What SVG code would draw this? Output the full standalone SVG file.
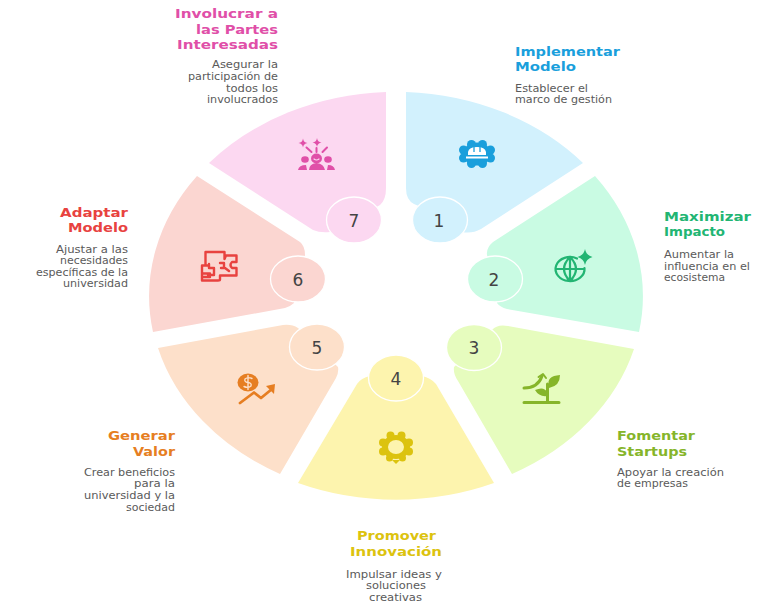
<svg xmlns="http://www.w3.org/2000/svg" width="779" height="608" viewBox="0 0 779 608">
<style>
.t{font-family:"DejaVu Sans","Liberation Sans",sans-serif;font-weight:700;font-size:13px}
.d{font-family:"DejaVu Sans","Liberation Sans",sans-serif;font-size:10px;fill:#5a5a5a}
.n{font-family:"DejaVu Sans","Liberation Sans",sans-serif;font-size:17px;fill:#444;text-anchor:middle}
.c{stroke:#fff;stroke-width:1.3}
.l{fill:none;stroke-linecap:round;stroke-linejoin:round}
</style>
<rect width="779" height="608" fill="#fff"/>

<g id="node-1">
<path d="M406 92A247 203 0 0 1 583 163L481 229Q472 234 462 232L440 215L414 204Q406 200 406 188Z" fill="#d2f1fd"/>
<ellipse class="c" cx="440" cy="220" rx="27.5" ry="23" fill="#d2f1fd"/>
<text class="n" x="439" y="227">1</text>
<g fill="#1a9fdc"><ellipse cx="477" cy="154" rx="14" ry="11.500"/><circle cx="490.500" cy="150" r="4.500"/><circle cx="490.500" cy="158" r="4.500"/><circle cx="463.500" cy="150" r="4.500"/><circle cx="463.500" cy="158" r="4.500"/><circle cx="471.500" cy="144.500" r="4.500"/><circle cx="482.500" cy="144.500" r="4.500"/><circle cx="471.500" cy="163.500" r="4.500"/><circle cx="482.500" cy="163.500" r="4.500"/></g>
<path d="M468 155V152Q469 147 477 147Q485 147 486 152V155ZM466 156.500H488V158.500H466Z" fill="#fff"/>
<path d="M474 147V152M480 147V152" stroke="#1a9fdc" stroke-width="1.300"/>
<text class="t" x="515" y="56" textLength="105" lengthAdjust="spacingAndGlyphs" fill="#1a9fdc">Implementar</text>
<text class="t" x="515" y="71" textLength="61" lengthAdjust="spacingAndGlyphs" fill="#1a9fdc">Modelo</text>
<text class="d" x="515" y="91.500" textLength="73" lengthAdjust="spacingAndGlyphs">Establecer el</text>
<text class="d" x="515" y="103" textLength="97" lengthAdjust="spacingAndGlyphs">marco de gestión</text>
</g>

<g id="node-2">
<path d="M595 176A247 203 0 0 1 639 332L507 309Q500 307 497 303L494 280L487 255Q486 248 493 242Z" fill="#c9fbe3"/>
<ellipse class="c" cx="495" cy="279" rx="27.500" ry="23" fill="#c9fbe3"/>
<text class="n" x="494" y="286">2</text>
<path class="l" d="M577 258.500A14.500 12 0 1 0 584.500 268M556 269H584M570 257V281M570 257Q558 269 570 281M570 257Q582 269 570 281" stroke="#22b573" stroke-width="2.200"/>
<path d="M585 249Q586 255 592.500 257Q586 259 585 265Q584 259 577.500 257Q584 255 585 249Z" fill="#22b573"/>
<text class="t" x="664" y="221" textLength="87" lengthAdjust="spacingAndGlyphs" fill="#22b573">Maximizar</text>
<text class="t" x="664" y="236" textLength="61" lengthAdjust="spacingAndGlyphs" fill="#22b573">Impacto</text>
<text class="d" x="664" y="258" textLength="70" lengthAdjust="spacingAndGlyphs">Aumentar la</text>
<text class="d" x="664" y="270" textLength="86" lengthAdjust="spacingAndGlyphs">influencia en el</text>
<text class="d" x="664" y="281" textLength="61" lengthAdjust="spacingAndGlyphs">ecosistema</text>
</g>

<g id="node-3">
<path d="M634 349A247 203 0 0 1 512 474L458 381Q453 374 454 367L474 348L492 330Q497 324 508 326Z" fill="#e6fcbe"/>
<ellipse class="c" cx="474" cy="347.500" rx="27.500" ry="23" fill="#e6fcbe"/>
<text class="n" x="474" y="354">3</text>
<path class="l" d="M524 402.500H559M547.500 402V384M524 388Q538 388 542 376" stroke="#86b52a" stroke-width="3"/>
<path class="l" d="M538.500 377L543 374L546 378" stroke="#86b52a" stroke-width="2"/>
<path d="M549 386Q546 376 560 375Q560 386 549 388ZM547 396Q539 397 535 390Q544 386 547 392Z" fill="#86b52a"/>
<text class="t" x="617" y="440" textLength="78" lengthAdjust="spacingAndGlyphs" fill="#86b52a">Fomentar</text>
<text class="t" x="617" y="456" textLength="70" lengthAdjust="spacingAndGlyphs" fill="#86b52a">Startups</text>
<text class="d" x="617" y="476" textLength="107" lengthAdjust="spacingAndGlyphs">Apoyar la creación</text>
<text class="d" x="617" y="487" textLength="71" lengthAdjust="spacingAndGlyphs">de empresas</text>
</g>

<g id="node-4">
<path d="M494 483A247 203 0 0 1 298 483L357 384Q361 378 370 376L396 379L422 376Q431 378 436 384Z" fill="#fdf4ae"/>
<ellipse class="c" cx="396" cy="378" rx="27.500" ry="23" fill="#fdf4ae"/>
<text class="n" x="396" y="385">4</text>
<g fill="#dcc30f"><ellipse cx="396" cy="447" rx="14" ry="12"/><circle cx="409" cy="442.500" r="4"/><circle cx="409" cy="451.500" r="4"/><circle cx="383" cy="442.500" r="4"/><circle cx="383" cy="451.500" r="4"/><circle cx="390.500" cy="435.500" r="4"/><circle cx="401.500" cy="435.500" r="4"/><circle cx="389.500" cy="458" r="3.500"/><circle cx="402.500" cy="458" r="3.500"/><path d="M392 460H400L396 464Z"/></g>
<ellipse cx="396" cy="447" rx="8" ry="7" fill="#fdf4ae"/>
<text class="t" x="357" y="540" textLength="79" lengthAdjust="spacingAndGlyphs" fill="#dcc30f">Promover</text>
<text class="t" x="350" y="556" textLength="92" lengthAdjust="spacingAndGlyphs" fill="#dcc30f">Innovación</text>
<text class="d" x="346" y="578" textLength="96" lengthAdjust="spacingAndGlyphs">Impulsar ideas y</text>
<text class="d" x="366" y="589" textLength="60" lengthAdjust="spacingAndGlyphs">soluciones</text>
<text class="d" x="369" y="601" textLength="53" lengthAdjust="spacingAndGlyphs">creativas</text>
</g>

<g id="node-5">
<path d="M158 348A247 203 0 0 0 280 474L336 378Q339 372 338 367L317 347L298 328Q292 324 283 325Z" fill="#fde0ca"/>
<ellipse class="c" cx="317" cy="347" rx="27.500" ry="23" fill="#fde0ca"/>
<text class="n" x="317" y="354">5</text>
<ellipse cx="248" cy="382.500" rx="10.500" ry="9" fill="#e67e22"/>
<path class="l" d="M252 378.500Q248 376.500 245 379Q244 382 248 382.500Q252 383 251 386Q248 388.500 244 386.500M248 375.500V389.500" stroke="#fde0ca" stroke-width="1.400"/>
<path class="l" d="M240 403L254 392.500L261 398L272 389" stroke="#e67e22" stroke-width="2.800"/>
<path d="M266 386L275 384L274 394Z" fill="#e67e22"/>
<text class="t" x="108" y="440" textLength="67" lengthAdjust="spacingAndGlyphs" fill="#e67e22">Generar</text>
<text class="t" x="133" y="456" textLength="42" lengthAdjust="spacingAndGlyphs" fill="#e67e22">Valor</text>
<text class="d" x="84" y="476" textLength="91" lengthAdjust="spacingAndGlyphs">Crear beneficios</text>
<text class="d" x="134" y="487" textLength="41" lengthAdjust="spacingAndGlyphs">para la</text>
<text class="d" x="84" y="499" textLength="91" lengthAdjust="spacingAndGlyphs">universidad y la</text>
<text class="d" x="126" y="511" textLength="49" lengthAdjust="spacingAndGlyphs">sociedad</text>
</g>

<g id="node-6">
<path d="M153 332A247 203 0 0 1 197 176L300 242Q305 246 305 255L298 280L294 303Q291 306 285 308Z" fill="#fbd6d1"/>
<ellipse class="c" cx="298" cy="279" rx="27.500" ry="23" fill="#fbd6d1"/>
<text class="n" x="298" y="286">6</text>
<path class="l" d="M205.500 264V252H224.500V259L226 255.500H236.500V262H232Q229 265 232 268H236.500V275.500H220V279.500Q220 280.500 218 280.500H202V265.500H209M209 264V268H213M214 268V275H208M202 273.500H210M202 277H210M220 263H224V268H221M225 268L229 271" stroke="#e8423f" stroke-width="2.400"/>
<text class="t" x="60" y="217" textLength="68" lengthAdjust="spacingAndGlyphs" fill="#e8423f">Adaptar</text>
<text class="t" x="68" y="232" textLength="60" lengthAdjust="spacingAndGlyphs" fill="#e8423f">Modelo</text>
<text class="d" x="56" y="253" textLength="72" lengthAdjust="spacingAndGlyphs">Ajustar a las</text>
<text class="d" x="60" y="264" textLength="68" lengthAdjust="spacingAndGlyphs">necesidades</text>
<text class="d" x="36" y="276" textLength="92" lengthAdjust="spacingAndGlyphs">específicas de la</text>
<text class="d" x="63" y="287" textLength="65" lengthAdjust="spacingAndGlyphs">universidad</text>
</g>

<g id="node-7">
<path d="M209 163A247 203 0 0 1 386 92V188Q386 200 380 205L354 220L330 232Q320 233 313 230Z" fill="#fcd8f1"/>
<ellipse class="c" cx="354" cy="220" rx="27.500" ry="23" fill="#fcd8f1"/>
<text class="n" x="354" y="227">7</text>
<g fill="#e04fa8">
<path d="M303 138.500Q303.500 142.500 307.500 143Q303.500 143.500 303 147.500Q302.500 143.500 298.500 143Q302.500 142.500 303 138.500ZM317 138Q317.500 142 321.500 142.500Q317.500 143 317 147Q316.500 143 312.500 142.500Q316.500 142 317 138Z"/>
<ellipse cx="305" cy="159.500" rx="3.800" ry="3.300"/><ellipse cx="328" cy="159.500" rx="3.800" ry="3.300"/>
<ellipse cx="316.500" cy="158.500" rx="5.500" ry="5"/>
<path d="M309 170Q309 164 316.500 163Q324 164 325 170ZM298 170Q299 165 306 165L307 170ZM327 170L328 165Q334 165 335 170Z"/>
</g>
<path class="l" d="M306.500 147.500L311.500 152M316.500 148V152M327 147.500L322.500 152" stroke="#e04fa8" stroke-width="2"/>
<path class="l" d="M314 159Q316.500 161 319 159" stroke="#fcd8f1" stroke-width="1.200"/>
<text class="t" x="175" y="18" textLength="103" lengthAdjust="spacingAndGlyphs" fill="#e04fa8">Involucrar a</text>
<text class="t" x="196" y="33.500" textLength="82" lengthAdjust="spacingAndGlyphs" fill="#e04fa8">las Partes</text>
<text class="t" x="177" y="49" textLength="101" lengthAdjust="spacingAndGlyphs" fill="#e04fa8">Interesadas</text>
<text class="d" x="212" y="68" textLength="66" lengthAdjust="spacingAndGlyphs">Asegurar la</text>
<text class="d" x="188" y="80" textLength="90" lengthAdjust="spacingAndGlyphs">participación de</text>
<text class="d" x="226" y="92" textLength="52" lengthAdjust="spacingAndGlyphs">todos los</text>
<text class="d" x="207" y="103" textLength="71" lengthAdjust="spacingAndGlyphs">involucrados</text>
</g>
</svg>
